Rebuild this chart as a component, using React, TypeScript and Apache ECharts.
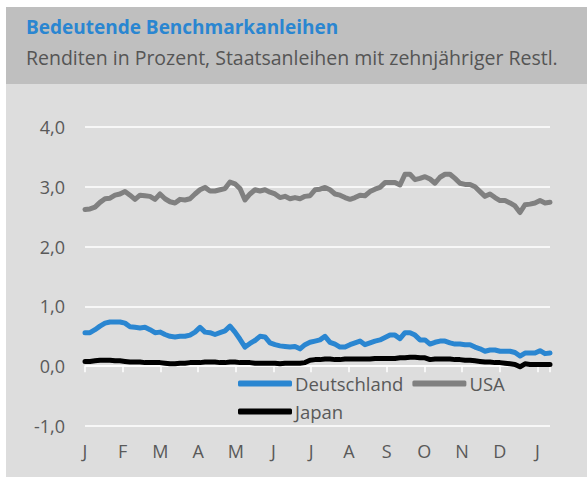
import React, { useEffect, useRef } from "react";
import * as echarts from "echarts";

const monthLabels = ["J", "F", "M", "A", "M", "J", "J", "A", "S", "O", "N", "D", "J"];
const yTicks = [-1, 0, 1, 2, 3, 4];
const seriesNames = ["Deutschland", "USA", "Japan"];

// sampling grid: months elapsed since start (about every 4 days)
const monthStep = 5 / 37.7;
const tMonths: number[] = Array.from({ length: 94 }, (_, i) => +(i * monthStep).toFixed(4));

const usa = [
  2.62, 2.63, 2.66, 2.74, 2.80, 2.81, 2.86, 2.88, 2.92, 2.86, 2.79, 2.86, 2.85, 2.84, 2.79, 2.88,
  2.80, 2.75, 2.73, 2.79, 2.78, 2.80, 2.88, 2.95, 2.99, 2.93, 2.93, 2.95, 2.97, 3.08, 3.05, 2.97,
  2.78, 2.88, 2.95, 2.93, 2.95, 2.91, 2.88, 2.82, 2.84, 2.80, 2.82, 2.80, 2.84,
  2.85, 2.95, 2.96, 2.99, 2.95, 2.88, 2.86, 2.82, 2.79, 2.82, 2.86, 2.85, 2.92, 2.96, 2.99, 3.07,
  3.07, 3.07, 3.03, 3.21, 3.21, 3.12, 3.14, 3.17, 3.13, 3.06, 3.16, 3.21, 3.21, 3.14, 3.06, 3.04, 3.04,
  3.00, 2.92, 2.84, 2.88, 2.82, 2.77, 2.77, 2.73, 2.68, 2.57, 2.70, 2.71, 2.73, 2.77, 2.73, 2.74,
];

const deutschland = [
  0.56, 0.56, 0.61, 0.67, 0.72, 0.74, 0.74, 0.74, 0.72, 0.66, 0.65, 0.64, 0.65, 0.61, 0.56, 0.57,
  0.53, 0.50, 0.49, 0.50, 0.50, 0.52, 0.57, 0.65, 0.57, 0.56, 0.53, 0.56, 0.59, 0.67, 0.57, 0.45,
  0.32, 0.38, 0.43, 0.50, 0.49, 0.39, 0.36, 0.34, 0.33, 0.32, 0.33, 0.29, 0.36,
  0.40, 0.42, 0.44, 0.50, 0.40, 0.37, 0.32, 0.32, 0.36, 0.39, 0.42, 0.36, 0.39, 0.42, 0.44, 0.48,
  0.52, 0.52, 0.46, 0.56, 0.56, 0.52, 0.44, 0.44, 0.37, 0.40, 0.42, 0.42, 0.39, 0.37, 0.37, 0.36, 0.36,
  0.32, 0.29, 0.25, 0.27, 0.27, 0.25, 0.25, 0.25, 0.23, 0.17, 0.22, 0.22, 0.22, 0.26, 0.21, 0.22,
];

const japan = [
  0.08, 0.08, 0.09, 0.10, 0.10, 0.10, 0.09, 0.09, 0.08, 0.07, 0.07, 0.07, 0.06, 0.06, 0.06, 0.06,
  0.05, 0.04, 0.04, 0.05, 0.05, 0.06, 0.06, 0.06, 0.07, 0.07, 0.07, 0.06, 0.06, 0.07, 0.07, 0.06,
  0.06, 0.06, 0.05, 0.05, 0.05, 0.05, 0.05, 0.04, 0.05, 0.05, 0.05, 0.05, 0.06,
  0.10, 0.11, 0.11, 0.12, 0.12, 0.11, 0.11, 0.12, 0.12, 0.12, 0.12, 0.12, 0.12, 0.13, 0.13, 0.13,
  0.13, 0.13, 0.14, 0.14, 0.15, 0.15, 0.14, 0.14, 0.11, 0.12, 0.12, 0.12, 0.12, 0.11, 0.11, 0.10, 0.10,
  0.09, 0.08, 0.07, 0.07, 0.06, 0.06, 0.05, 0.04, 0.03, -0.01, 0.04, 0.03, 0.03, 0.03, 0.03, 0.03,
];

const colors = ["#2a86d1", "#808080", "#000000"];
const FONT = "'Open Sans', 'Noto Sans', sans-serif";

export default function App() {
  const ref = useRef<HTMLDivElement>(null);
  useEffect(() => {
    document.body.style.margin = "0";
    const chart = echarts.init(ref.current!, null, { renderer: "svg" });
    const xMax = tMonths[tMonths.length - 1];
    const values = [deutschland, usa, japan];
    chart.setOption({
      animation: false,
      backgroundColor: "#ffffff",
      textStyle: { fontFamily: FONT },
      graphic: [
        { type: "rect", z: -10, shape: { x: 6, y: 7, width: 581, height: 77 }, style: { fill: "#bfbfbf" } },
        { type: "rect", z: -10, shape: { x: 6, y: 84, width: 581, height: 393 }, style: { fill: "#dddddd" } },
        {
          type: "text", x: 26, y: 27,
          style: { text: "Bedeutende Benchmarkanleihen", fill: "#2a86d1", font: `bold 19px ${FONT}`, verticalAlign: "middle" },
        },
        {
          type: "text", x: 26, y: 57,
          style: { text: "Renditen in Prozent, Staatsanleihen mit zehnjähriger Restl.", fill: "#555555", font: `19.5px ${FONT}`, verticalAlign: "middle" },
        },
      ],
      grid: { left: 85, right: 37, top: 127, bottom: 51, containLabel: false },
      legend: {
        data: seriesNames,
        left: 233,
        top: 369,
        width: 300,
        itemWidth: 54,
        itemHeight: 6,
        itemGap: 9,
        icon: "roundRect",
        textStyle: { fontSize: 18.5, color: "#595959", lineHeight: 17, fontFamily: FONT, padding: [0, 0, 0, -2] },
      },
      xAxis: [
        {
          type: "value",
          min: 0,
          max: xMax,
          interval: 1,
          axisLine: { show: false, onZero: false },
          axisTick: { show: false },
          splitLine: { show: false },
          axisLabel: {
            fontSize: 18,
            color: "#595959",
            margin: 16,
            showMaxLabel: false,
            formatter: (v: number) => (Math.abs(v - Math.round(v)) < 1e-6 ? monthLabels[Math.round(v)] ?? "" : ""),
          },
        },
        {
          type: "value",
          min: 0,
          max: xMax,
          interval: 1,
          position: "bottom",
          axisLine: { show: true, onZero: true, lineStyle: { color: "#ffffff", width: 1.5 } },
          axisTick: { show: true, length: 6, lineStyle: { color: "#ffffff", width: 1.5 } },
          splitLine: { show: false },
          axisLabel: { show: false },
        },
      ],
      yAxis: {
        type: "value",
        min: yTicks[0],
        max: yTicks[yTicks.length - 1],
        interval: 1,
        axisLine: { show: false },
        axisTick: { show: false },
        splitLine: { show: true, lineStyle: { color: "#ffffff", width: 1.5 } },
        axisLabel: {
          fontSize: 18,
          color: "#595959",
          margin: 20,
          formatter: (v: number) => v.toFixed(1).replace(".", ","),
        },
      },
      series: seriesNames.map((name, k) => ({
        name,
        type: "line",
        xAxisIndex: 0,
        data: tMonths.map((t, i) => [t, values[k][i]]),
        showSymbol: false,
        symbol: "none",
        color: colors[k],
        lineStyle: { width: 5, color: colors[k], cap: "round", join: "round" },
        z: k === 2 ? 3 : 2,
      })),
    });
    return () => chart.dispose();
  }, []);
  return <div ref={ref} style={{ position: "fixed", left: 0, top: 0, width: 587, height: 477 }} />;
}
